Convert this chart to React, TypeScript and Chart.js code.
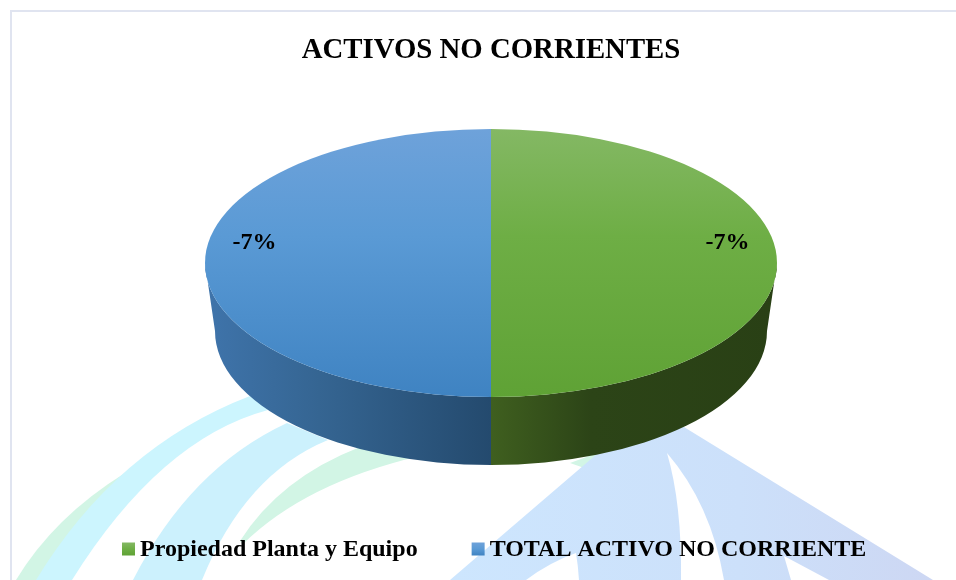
import React, { useEffect, useRef } from "react";
import { Chart, registerables } from "chart.js";

Chart.register(...registerables);

const TITLE = "ACTIVOS NO CORRIENTES";
const categories = ["Propiedad Planta y Equipo", "TOTAL ACTIVO NO CORRIENTE"];
const values = [-7, -7];

const SERIF = "'Liberation Serif', 'Times New Roman', serif";
const TOP_STOPS = [
  ["#84b864", "#6eae45", "#5fa235"],
  ["#6ea2da", "#5a9ad5", "#3f83c2"],
];
const WALL_STOPS = [
  ["#3f5f1f", "#2c4417", "#294015"],
  ["#3f74ab", "#356592", "#244a6e"],
];
const CY = 263, RADIUS = 286, RY = 134, DEPTH = 68, BOTTOM_RX = 276;

function swooshes(ctx: CanvasRenderingContext2D) {
  const band = (color: string | CanvasGradient, pts: number[][]) => {
    ctx.fillStyle = color;
    ctx.beginPath();
    ctx.moveTo(pts[0][0], pts[0][1]);
    for (let i = 1; i < pts.length; i++) {
      const p = pts[i];
      if (p.length === 2) ctx.lineTo(p[0], p[1]);
      else ctx.quadraticCurveTo(p[0], p[1], p[2], p[3]);
    }
    ctx.closePath();
    ctx.fill();
  };
  // pale green strand behind the first cyan band
  band("#d2f5e5", [[16, 580], [54, 517, 125, 473], [125, 490], [60, 580]]);
  // cyan bands
  band("#ccf5fe", [[36, 580], [117, 447, 250, 396], [268, 410], [160, 439, 72, 580]]);
  band("#ccf1fd", [[133, 580], [190, 468, 287, 423], [328, 440], [245, 474, 202, 580]]);
  // pale green band
  band("#d2f5e5", [[240, 541], [280, 478, 360, 447], [420, 456], [305, 483, 243, 544]]);
  band("#d2f5e5", [[570, 463], [600, 452], [590, 470]]);
  // blue fan
  const g = ctx.createLinearGradient(450, 0, 933, 0);
  g.addColorStop(0, "#cde6fe");
  g.addColorStop(0.6, "#cce0fa");
  g.addColorStop(1, "#cdd7f3");
  band(g, [
    [450, 580], [640, 417], [640, 400], [933, 580],
    [829, 580], [784, 556], [791, 580],
    [724, 580], [711, 504, 667, 453], [682, 504, 681, 580],
    [579, 580], [578, 565, 576, 553], [550, 562, 526, 580],
  ]);
}

function stops(g: CanvasGradient, list: string[], at = [0, 0.5, 1]) {
  list.forEach((c, i) => g.addColorStop(at[i], c));
  return g;
}

const piePlugin = {
  id: "pie3d",
  beforeDraw(chart: any) {
    const ctx = chart.ctx;
    ctx.save();
    ctx.fillStyle = "#ffffff";
    ctx.fillRect(0, 0, chart.width, chart.height);
    swooshes(ctx);
    // frame
    ctx.fillStyle = "#e0e4f0";
    ctx.fillRect(10, 10, chart.width - 10, 2);
    ctx.fillRect(10, 10, 2, chart.height - 10);
    ctx.restore();
  },
  afterLayout(chart: any) {
    const lg = chart.legend;
    const width = lg.right - lg.left;
    lg.left = 68;
    lg.right = lg.left + width;
    const height = lg.bottom - lg.top;
    lg.top = 484;
    lg.bottom = lg.top + height;
  },
  beforeDatasetsDraw(chart: any) {
    const ctx = chart.ctx;
    const arcs = chart.getDatasetMeta(0).data;
    const k = RY / RADIUS;
    ctx.save();
    arcs.forEach((arc: any, i: number) => {
      const a0 = Math.max(arc.startAngle, 0);
      const a1 = Math.min(arc.endAngle, Math.PI);
      if (a1 <= a0) return;
      const cx = arc.x, r = arc.outerRadius, ry = r * k;
      const bx = BOTTOM_RX, by = ry, cyb = CY + DEPTH;
      const g = ctx.createLinearGradient(i === 0 ? cx : cx - r, 0, i === 0 ? cx + r : cx, 0);
      ctx.fillStyle = stops(g, WALL_STOPS[i], i === 0 ? [0, 0.35, 1] : [0, 0.4, 1]);
      ctx.beginPath();
      ctx.ellipse(cx, cyb, bx, by, 0, a0, a1);
      ctx.ellipse(cx, CY, r, ry, 0, a1, a0, true);
      ctx.closePath();
      ctx.fill();
    });
    ctx.restore();
    const arc = arcs[0];
    ctx.save();
    ctx.translate(0, CY);
    ctx.scale(1, k);
    ctx.translate(0, -arc.y);
  },
  afterDatasetsDraw(chart: any) {
    const ctx = chart.ctx;
    ctx.restore();
    const arcs = chart.getDatasetMeta(0).data;
    ctx.save();
    ctx.font = `bold 24px ${SERIF}`;
    ctx.fillStyle = "#000000";
    ctx.textAlign = "center";
    ctx.textBaseline = "middle";
    arcs.forEach((arc: any, i: number) => {
      const mid = (arc.startAngle + arc.endAngle) / 2;
      const x = arc.x + Math.cos(mid) * arc.outerRadius * 0.827;
      ctx.fillText(`${values[i]}%`, x, CY - 20);
    });
    ctx.restore();
  },
  afterDraw(chart: any) {
    const ctx = chart.ctx;
    const boxes = chart.legend.legendHitBoxes;
    ctx.save();
    boxes.forEach((b: any, i: number) => {
      const x = b.left;
      const y = b.top + (b.height - 13) / 2 - 1;
      const g = ctx.createLinearGradient(0, y, 0, y + 13);
      ctx.fillStyle = stops(g, TOP_STOPS[i]);
      ctx.fillRect(x, y, 13, 13);
    });
    ctx.restore();
  },
};

export default function App() {
  const ref = useRef<HTMLCanvasElement>(null);
  useEffect(() => {
    document.body.style.margin = "0";
    const chart = new Chart(ref.current!, {
      type: "pie",
      data: {
        labels: categories,
        datasets: [
          {
            data: values,
            radius: RADIUS,
            borderWidth: 0,
            backgroundColor: (c: any) => {
              const area = c.chart.chartArea;
              const i = c.dataIndex ?? 0;
              if (!area) return TOP_STOPS[i][1];
              const my = (area.top + area.bottom) / 2;
              const g = c.chart.ctx.createLinearGradient(0, my - RADIUS, 0, my + RADIUS);
              return stops(g, TOP_STOPS[i], [0, 0.4, 1]);
            },
          } as any,
        ],
      },
      options: {
        responsive: false,
        animation: false,
        rotation: 0,
        layout: { padding: { left: 26 } },
        plugins: {
          title: {
            display: true,
            text: TITLE,
            color: "#000000",
            font: { family: SERIF, size: 28.8, weight: "bold" },
            padding: { top: 33, bottom: 10 },
          },
          legend: {
            position: "bottom",
            align: "start",
            labels: {
              boxWidth: 6,
              boxHeight: 13,
              padding: 54,
              color: "#000000",
              font: { family: SERIF, size: 24, weight: "bold" },
              generateLabels: (chart: any) =>
                chart.data.labels.map((text: string, index: number) => ({
                  text,
                  index,
                  fillStyle: "rgba(0,0,0,0)",
                  strokeStyle: "rgba(0,0,0,0)",
                  lineWidth: 0,
                  fontColor: "#000000",
                })),
            },
          },
          tooltip: { enabled: false },
        },
      } as any,
      plugins: [piePlugin as any],
    });
    return () => chart.destroy();
  }, []);
  return <canvas ref={ref} width={956} height={580} style={{ display: "block" }} />;
}
